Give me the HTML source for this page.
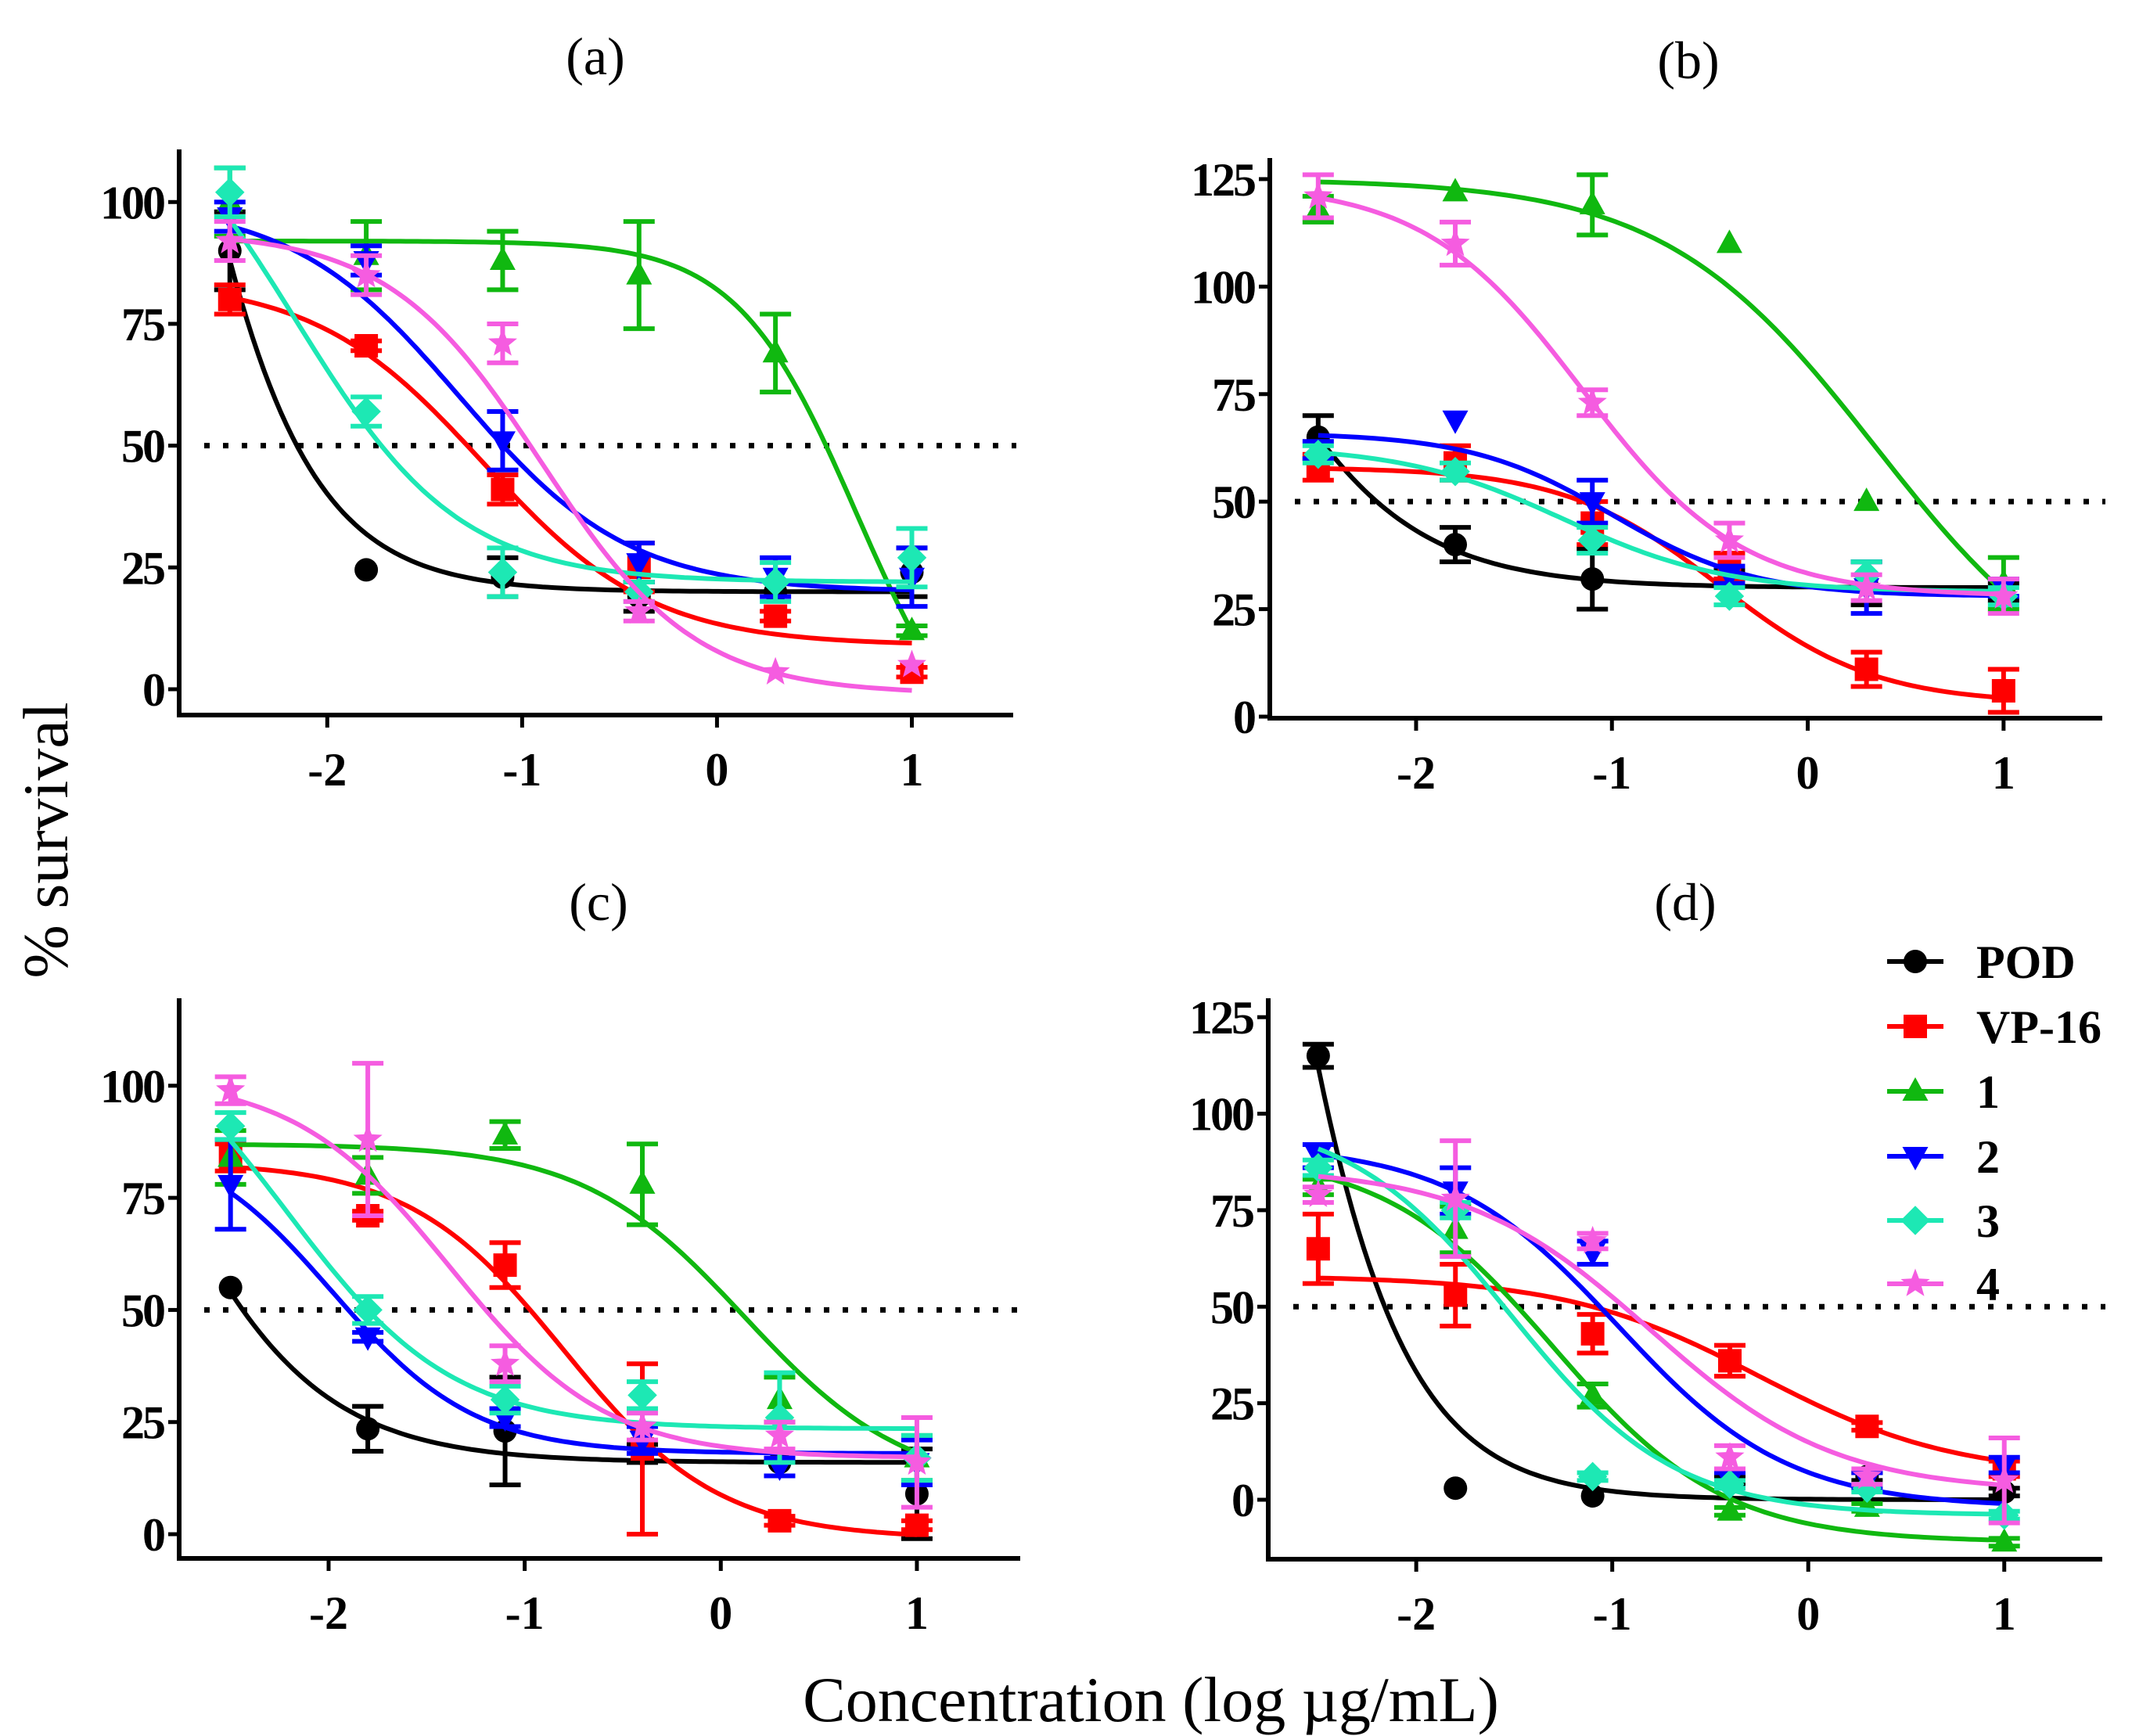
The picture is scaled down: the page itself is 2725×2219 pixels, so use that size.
<!DOCTYPE html>
<html><head><meta charset="utf-8"><style>
html,body{margin:0;padding:0;background:#fff;}
svg{display:block;}
</style></head><body>
<svg id="fig" width="2725" height="2219" viewBox="0 0 2725 2219" xmlns="http://www.w3.org/2000/svg">
<rect width="2725" height="2219" fill="#fff"/>
<text x="0" y="0" transform="translate(86,1074) rotate(-90)" text-anchor="middle" font-family="Liberation Serif, serif" font-size="82" fill="#000">% survival</text>
<text x="1471" y="2200" text-anchor="middle" font-family="Liberation Serif, serif" font-size="82" fill="#000">Concentration (log µg/mL)</text>
<g id="legend"></g>
</svg>
<script>
const doses = [-2.5, -1.8, -1.1, -0.4, 0.3, 1.0];
const seriesNames = ["POD", "VP-16", "1", "2", "3", "4"];
const colors = ["#000000", "#ff0000", "#10b810", "#0000ff", "#1de8b4", "#f55ce0"];
const shapes = ["circle", "square", "tri-up", "tri-down", "diamond", "star"];

// panel (a)
const aMeans = [[90,24.5,23,19,20,24],[80,70.5,41,25,15,3.5],[100,89,88,85,69,12],[97,88,51,26,23,23],[102,57,24,20,22,27],[92,85,71,16,3.5,5]];
const aErrs = [[8,0,4,3,0,5],[3,1,3,5,1,1],[7,7,6,11,8,1],[3,3,6,4,4,6],[5,3,5,2,4,6],[4,4,4,2,0,0]];
const aFits = [[359,20,-3,1.2],[84,9,-1.2,1.0],[92,-20,0.717,1.41],[100,20,-1.32,1.0],[130,22,-2.165,1.03],[94,-1,-0.9,1.1]];
// panel (b)
const bMeans = [[65,40,32,33,31,29],[58,59,45,35,11,6],[118,122,119,110,50,31],[62,69,50,33,30,30],[61,57,41,28,33,28],[121,110,73,41,30,28]];
const bErrs = [[5,4,7,1,5,2],[3,4,5,3,4,5],[3,0,7,0,0,6],[2,0,5,2,6,2],[2,2,3,2,3,2],[5,5,3,4,3,4]];
const bFits = [[176,30,-3,1.0],[58,3,-0.45,1.1],[125,0,0.35,0.8],[66,28,-1.0,1.2],[63,29,-1.25,1.05],[124,28,-1.15,1.07]];
// panel (c)
const cMeans = [[55,23.5,23,18,16,9],[84,71,60,19,3,2],[84,80,89,78,30,17],[78,44,26,21,15,16],[91,50,30,31,26,17],[99,88,38,24,22,16]];
const cErrs = [[0,5,12,2,0,10],[3,1,5,19,1,1],[6,4,3,9,5,5],[10,1,2,3,2,5],[3,3,3,3,10,5],[3,17,4,3,3,10]];
const cFits = [[174,16,-3,1.0],[83,-1,-0.8,1.1],[87,10,0.12,1.05],[90,18,-1.98,1.2],[120,23.5,-2.21,1.03],[102,17,-1.38,1.09]];
// panel (d)
const dMeans = [[115,3,1,5,6,2],[65,53,43,36,19,8],[81,70,27,-3,-2,-11],[89,80,64,5,5,9],[86,75,6,4,3,-4],[79,78,67,11,6,5]];
const dErrs = [[3,0,0,1,1,1],[9,8,5,4,1,2],[2,6,3,1,1,1],[3,6,3,2,2,2],[2,2,1,1,1,1],[2,15,2,3,2,11]];
const dFits = [[558,0,-3,1.2],[58,6,-0.25,0.87],[90,-11,-1.3,1.0],[92,-2,-0.97,1.0],[100,-4,-1.52,1.04],[86,2,-0.805,0.92]];

const xTicks = [-2, -1, 0, 1];
const aYTicks = [0, 25, 50, 75, 100];
const bYTicks = [0, 25, 50, 75, 100, 125];
const cYTicks = [0, 25, 50, 75, 100];
const dYTicks = [0, 25, 50, 75, 100, 125];
const panelLabels = ["(a)", "(b)", "(c)", "(d)"];

const NS = "http://www.w3.org/2000/svg";
const svg = document.getElementById("fig");
function mk(tag, attrs, parent) {
  const e = document.createElementNS(NS, tag);
  for (const k in attrs) e.setAttribute(k, attrs[k]);
  (parent || svg).appendChild(e);
  return e;
}
function markerPath(shape, cx, cy, r) {
  if (shape === "square") return `M${cx-r},${cy-r}H${cx+r}V${cy+r}H${cx-r}Z`;
  if (shape === "tri-up") return `M${cx},${cy-r*1.2}L${cx+r*1.1},${cy+r*0.8}L${cx-r*1.1},${cy+r*0.8}Z`;
  if (shape === "tri-down") return `M${cx},${cy+r*1.2}L${cx+r*1.1},${cy-r*0.8}L${cx-r*1.1},${cy-r*0.8}Z`;
  if (shape === "diamond") return `M${cx},${cy-r*1.25}L${cx+r*1.25},${cy}L${cx},${cy+r*1.25}L${cx-r*1.25},${cy}Z`;
  if (shape === "star") {
    let d = "";
    for (let i = 0; i < 10; i++) {
      const ang = -Math.PI/2 + i*Math.PI/5;
      const rr = i % 2 === 0 ? r*1.3 : r*0.55;
      d += (i ? "L" : "M") + (cx + rr*Math.cos(ang)).toFixed(1) + "," + (cy + rr*Math.sin(ang)).toFixed(1);
    }
    return d + "Z";
  }
  return null;
}
function drawMarker(g, shape, cx, cy, r, color) {
  let m;
  if (shape === "circle") m = mk("circle", {cx: cx, cy: cy, r: r, fill: color}, g);
  else m = mk("path", {d: markerPath(shape, cx, cy, r), fill: color}, g);
  return m;
}
function fit4pl(p, x) { return p[1] + (p[0]-p[1]) / (1 + Math.pow(10, (x - p[2]) * p[3])); }

const panels = [
  {name: "a", x0: 229, x1: 1295, top: 191, bot: 914, xmin: -2.76, xmax: 1.52, ymin: -5.3, ymax: 110.8, means: aMeans, errs: aErrs, fits: aFits, yt: aYTicks, lx: 761, ly: 95},
  {name: "b", x0: 1623, x1: 2687, top: 202, bot: 918, xmin: -2.747, xmax: 1.504, ymin: -0.36, ymax: 129.9, means: bMeans, errs: bErrs, fits: bFits, yt: bYTicks, lx: 2158, ly: 100},
  {name: "c", x0: 229, x1: 1304, top: 1276, bot: 1992, xmin: -2.762, xmax: 1.527, ymin: -5.4, ymax: 119.5, means: cMeans, errs: cErrs, fits: cFits, yt: cYTicks, lx: 765, ly: 1176},
  {name: "d", x0: 1621, x1: 2687, top: 1276, bot: 1993, xmin: -2.755, xmax: 1.50, ymin: -15.4, ymax: 129.9, means: dMeans, errs: dErrs, fits: dFits, yt: dYTicks, lx: 2154, ly: 1176}
];

panels.forEach((P, pi) => {
  const g = mk("g", {});
  
  
  const sx = v => P.x0 + (v - P.xmin) / (P.xmax - P.xmin) * (P.x1 - P.x0);
  const sy = v => P.bot - (v - P.ymin) / (P.ymax - P.ymin) * (P.bot - P.top);

  const title = mk("text", {x: P.lx, y: P.ly, "text-anchor": "middle", "font-family": "Liberation Serif, serif", "font-size": "68", fill: "#000"}, g);
  title.textContent = panelLabels[pi];
  
  

  const yax = mk("line", {x1: P.x0, y1: P.top, x2: P.x0, y2: P.bot + 3, stroke: "#000", "stroke-width": 6}, g);
  
  
  const xax = mk("line", {x1: P.x0 - 3, y1: P.bot, x2: P.x1, y2: P.bot, stroke: "#000", "stroke-width": 6}, g);
  
  

  P.yt.forEach(t => {
    const y = sy(t);
    mk("line", {x1: P.x0 - 14, y1: y, x2: P.x0, y2: y, stroke: "#000", "stroke-width": 5}, g);
    const tl = mk("text", {x: P.x0 - 20, y: y + 21, "text-anchor": "end", "font-family": "Liberation Serif, serif", "font-weight": "bold", "font-size": "60", "letter-spacing": "-3", fill: "#000"}, g);
    tl.textContent = String(t);
    
    
  });
  xTicks.forEach(t => {
    const x = sx(t);
    mk("line", {x1: x, y1: P.bot, x2: x, y2: P.bot + 16, stroke: "#000", "stroke-width": 5}, g);
    const tl = mk("text", {x: x, y: P.bot + 90, "text-anchor": "middle", "font-family": "Liberation Serif, serif", "font-weight": "bold", "font-size": "60", fill: "#000"}, g);
    tl.textContent = String(t);
    
    
  });

  const ref = mk("line", {x1: P.x0 + 32, y1: sy(50), x2: P.x1 + 4, y2: sy(50), stroke: "#000", "stroke-width": 7, "stroke-dasharray": "7 17"}, g);
  
  

  for (let s = 0; s < 6; s++) {
    const sg = mk("g", {}, g);
    
    
    let d = "";
    const x0 = doses[0], x1 = doses[doses.length - 1];
    for (let i = 0; i <= 120; i++) {
      const xv = x0 + (x1 - x0) * i / 120;
      d += (i ? "L" : "M") + sx(xv).toFixed(1) + "," + sy(fit4pl(P.fits[s], xv)).toFixed(1);
    }
    const cv = mk("path", {d: d, fill: "none", stroke: colors[s], "stroke-width": 6}, sg);
    
    
    doses.forEach((dv, i) => {
      const cx = sx(dv), m = P.means[s][i], e = P.errs[s][i];
      if (e > 0) {
        const yt = sy(m + e), yb = sy(m - e);
        const eb = mk("path", {d: `M${cx},${yt}V${yb}M${cx-20},${yt}H${cx+20}M${cx-20},${yb}H${cx+20}`, stroke: colors[s], "stroke-width": 6, fill: "none"}, sg);
        
        
      }
      const mkr = drawMarker(sg, shapes[s], cx, sy(m), 15, colors[s]);
      
      
    });
  }
});

const lg = document.getElementById("legend");
const legendY = [1229, 1312, 1395, 1478, 1560, 1641];
seriesNames.forEach((n, i) => {
  const eg = mk("g", {}, lg);
  
  
  mk("line", {x1: 2412, y1: legendY[i], x2: 2484, y2: legendY[i], stroke: colors[i], "stroke-width": 6}, eg);
  drawMarker(eg, shapes[i], 2448, legendY[i], 15, colors[i]);
  const t = mk("text", {x: 2526, y: legendY[i] + 21, "font-family": "Liberation Serif, serif", "font-weight": "bold", "font-size": "60", fill: "#000"}, eg);
  t.textContent = n;
});
</script>
</body></html>
